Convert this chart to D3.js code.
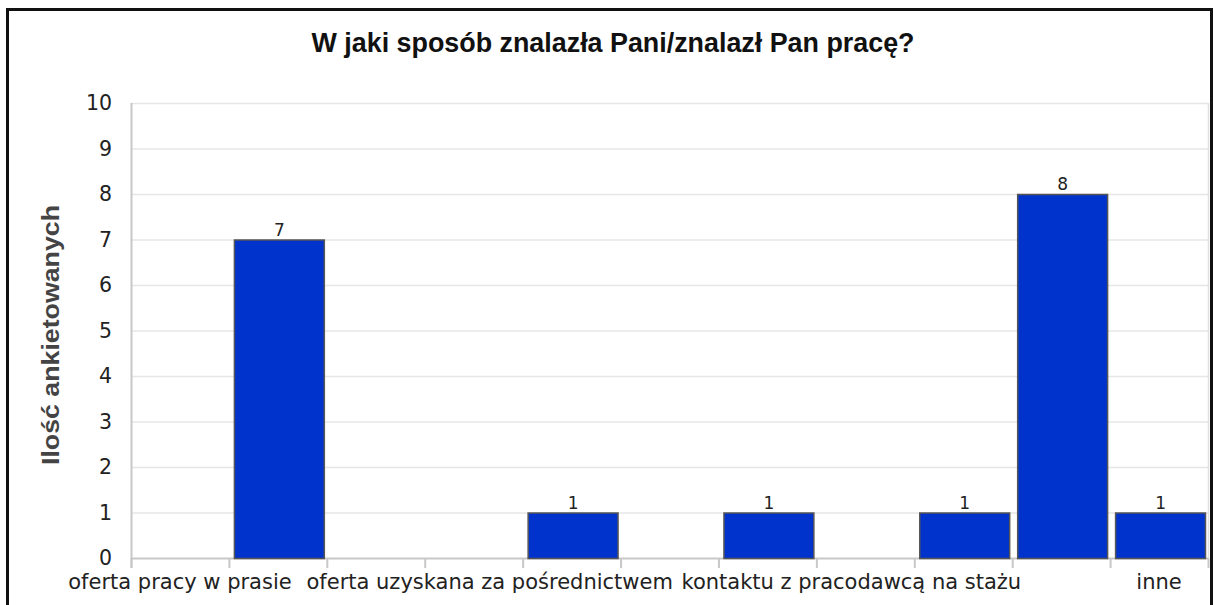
<!DOCTYPE html>
<html>
<head>
<meta charset="utf-8">
<script src="https://cdn.jsdelivr.net/npm/d3@7"></script>
<style>
  html, body { margin: 0; padding: 0; background: #fff; }
  svg { display: block; }
</style>
</head>
<body>
<svg id="chart" width="1213" height="605"></svg>
<script>
// ---- data ----
const title = "W jaki sposób znalazła Pani/znalazł Pan pracę?";
const yAxisTitle = "Ilość ankietowanych";
const categories = ["c0", "c1", "c2", "c3", "c4", "c5", "c6", "c7", "c8", "c9", "c10"];
const categoryLabels = ["oferta pracy w prasie", "", "", "oferta uzyskana za pośrednictwem", "", "", "", "kontaktu z pracodawcą na stażu", "", "", "inne"];
const values = [null, 7, null, null, 1, null, 1, null, 1, 8, 1];
const yTicks = [0, 1, 2, 3, 4, 5, 6, 7, 8, 9, 10];

// ---- layout ----
const svg = d3.select("#chart");
const W = 1213, H = 605;
const plot = { left: 131, right: 1208, top: 103, bottom: 558 };
const labelShift = [0, 0, 0, 16, 0, 0, 0, -14, 0, 0, 0];

svg.append("rect").attr("width", W).attr("height", H).attr("fill", "#fff");
// outer frame
svg.append("rect")
  .attr("x", 7.5).attr("y", 9.5).attr("width", 1204).attr("height", 700)
  .attr("fill", "none").attr("stroke", "#111").attr("stroke-width", 3);

const x = d3.scaleBand().domain(categories).range([plot.left, plot.right]).padding(0);
const y = d3.scaleLinear().domain([0, 10]).range([plot.bottom, plot.top]);

// gridlines
svg.append("g").selectAll("line").data(yTicks.filter(t => t > 0)).join("line")
  .attr("x1", plot.left).attr("x2", plot.right)
  .attr("y1", d => y(d) + 0.5).attr("y2", d => y(d) + 0.5)
  .attr("stroke", "#e6e6e6").attr("stroke-width", 1.5);

// right plot edge
svg.append("line")
  .attr("x1", plot.right + 0.5).attr("x2", plot.right + 0.5)
  .attr("y1", plot.top).attr("y2", plot.bottom)
  .attr("stroke", "#e0e0e0").attr("stroke-width", 1.5);

// y axis
const yAxis = d3.axisLeft(y).tickValues(yTicks).tickSize(0).tickPadding(19);
const gy = svg.append("g").attr("transform", `translate(${plot.left},0)`).call(yAxis);
gy.select(".domain").remove();
gy.selectAll("text")
  .attr("font-family", "DejaVu Sans, sans-serif").attr("font-size", 20.5).attr("fill", "#222");
svg.append("line")
  .attr("x1", plot.left + 0.5).attr("x2", plot.left + 0.5)
  .attr("y1", plot.top).attr("y2", plot.bottom + 10)
  .attr("stroke", "#c8c8c8").attr("stroke-width", 2);

// x axis baseline and boundary ticks
svg.append("line")
  .attr("x1", plot.left).attr("x2", plot.right)
  .attr("y1", plot.bottom + 0.5).attr("y2", plot.bottom + 0.5)
  .attr("stroke", "#c8c8c8").attr("stroke-width", 2);
const boundaries = categories.map(c => x(c)).concat([x.range()[1]]);
svg.append("g").selectAll("line").data(boundaries).join("line")
  .attr("x1", d => d + 0.5).attr("x2", d => d + 0.5)
  .attr("y1", plot.bottom).attr("y2", plot.bottom + 10)
  .attr("stroke", "#c8c8c8").attr("stroke-width", 2);

// x labels
svg.append("g").selectAll("text").data(categories).join("text")
  .attr("x", (d, i) => x(d) + x.bandwidth() / 2 + labelShift[i])
  .attr("y", 589)
  .attr("text-anchor", "middle")
  .attr("font-family", "DejaVu Sans, sans-serif").attr("font-size", 21).attr("fill", "#222")
  .text((d, i) => categoryLabels[i]);

// bars
const barData = categories.map((c, i) => ({ c, v: values[i] })).filter(d => d.v != null);
svg.append("g").selectAll("rect").data(barData).join("rect")
  .attr("x", d => x(d.c) + 5.5)
  .attr("y", d => y(d.v) + 0.5)
  .attr("width", x.bandwidth() - 8)
  .attr("height", d => y(0) - y(d.v))
  .attr("fill", "#0033cc")
  .attr("stroke", "#555").attr("stroke-width", 1.5);

// value labels
svg.append("g").selectAll("text").data(barData).join("text")
  .attr("x", d => x(d.c) + 5.5 + (x.bandwidth() - 8) / 2)
  .attr("y", d => y(d.v) - 4)
  .attr("text-anchor", "middle")
  .attr("font-family", "DejaVu Sans, sans-serif").attr("font-size", 17).attr("fill", "#222")
  .text(d => d.v);

// title
svg.append("text")
  .attr("x", 613).attr("y", 52)
  .attr("text-anchor", "middle")
  .attr("font-family", "Liberation Sans Narrow, Liberation Sans, Arial, sans-serif")
  .attr("font-weight", "bold").attr("font-size", 27).attr("fill", "#111")
  .attr("textLength", 603).attr("lengthAdjust", "spacingAndGlyphs")
  .text(title);

// y axis title
svg.append("text")
  .attr("transform", "translate(59,335) rotate(-90)")
  .attr("text-anchor", "middle")
  .attr("font-family", "Liberation Sans Narrow, Liberation Sans, Arial, sans-serif")
  .attr("font-weight", "bold").attr("font-size", 24).attr("fill", "#444")
  .attr("textLength", 260).attr("lengthAdjust", "spacingAndGlyphs")
  .text(yAxisTitle);
</script>
</body>
</html>
